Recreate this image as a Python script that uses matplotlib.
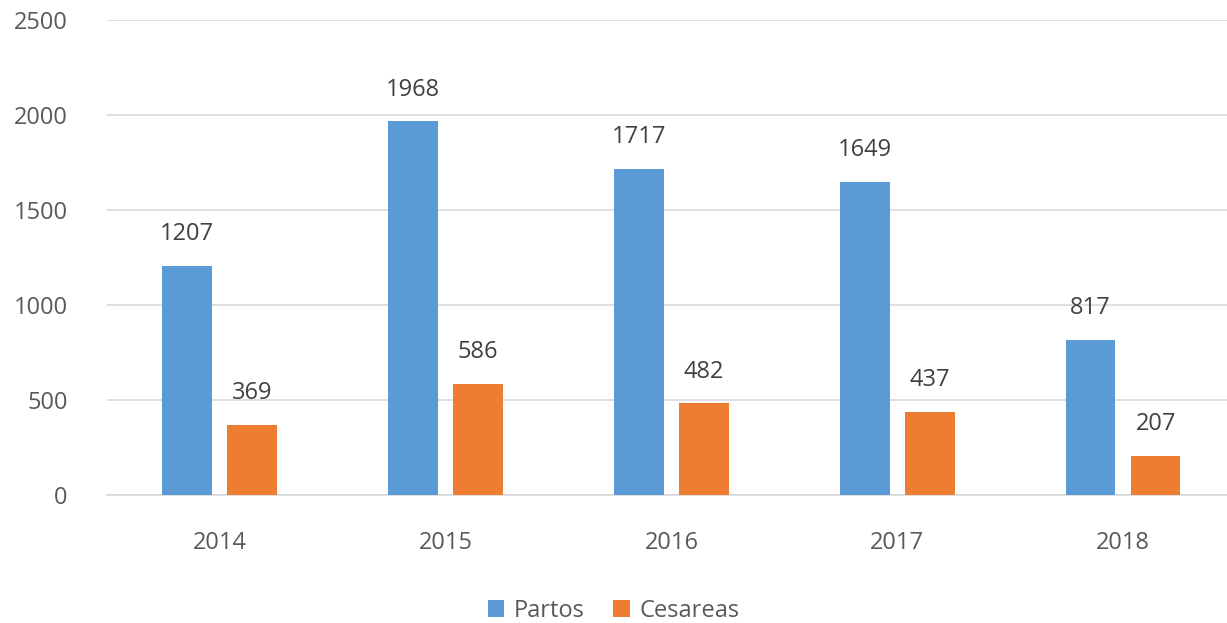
import matplotlib.pyplot as plt
import numpy as np

years = ["2014", "2015", "2016", "2017", "2018"]
partos = [1207, 1968, 1717, 1649, 817]
cesareas = [369, 586, 482, 437, 207]

BLUE = "#5B9BD5"
ORANGE = "#ED7D31"
TEXT = "#595959"

plt.rcParams["font.family"] = ["Open Sans", "DejaVu Sans"]

fig = plt.figure(figsize=(12.27, 6.23), dpi=100)
ax = fig.add_axes([0.087, 0.2055, 0.913, 0.7625])

x = np.arange(len(years))
w = 0.22
off = 0.144
b1 = ax.bar(x - off, partos, w, color=BLUE, label="Partos", zorder=3)
b2 = ax.bar(x + off, cesareas, w, color=ORANGE, label="Cesareas", zorder=3)

for bars in (b1, b2):
    for rect in bars:
        ax.annotate(f"{int(rect.get_height())}",
                    (rect.get_x() + rect.get_width() / 2, rect.get_height()),
                    xytext=(0, 14), textcoords="offset points",
                    ha="center", va="bottom", fontsize=17, color="#404040")

ax.set_ylim(0, 2500)
ax.set_xlim(-0.5, len(years) - 0.54)
ax.set_yticks(range(0, 2501, 500))
ax.set_xticks(x)
ax.set_xticklabels(years)
ax.yaxis.grid(True, color="#D9D9D9", linewidth=1.2, zorder=0)
for s in ["top", "right", "left"]:
    ax.spines[s].set_visible(False)
ax.spines["bottom"].set_color("#D9D9D9")
ax.spines["bottom"].set_linewidth(1.2)
ax.tick_params(axis="both", length=0, labelsize=17, colors=TEXT)
ax.tick_params(axis="x", pad=26)
ax.tick_params(axis="y", pad=28)

fig.legend(loc="lower center", bbox_to_anchor=(0.5, -0.034), ncol=2,
           frameon=False, fontsize=17, labelcolor=TEXT,
           handlelength=0.7, handleheight=0.7, handletextpad=0.4,
           columnspacing=1.2)

fig.savefig("out.png", dpi=100)
